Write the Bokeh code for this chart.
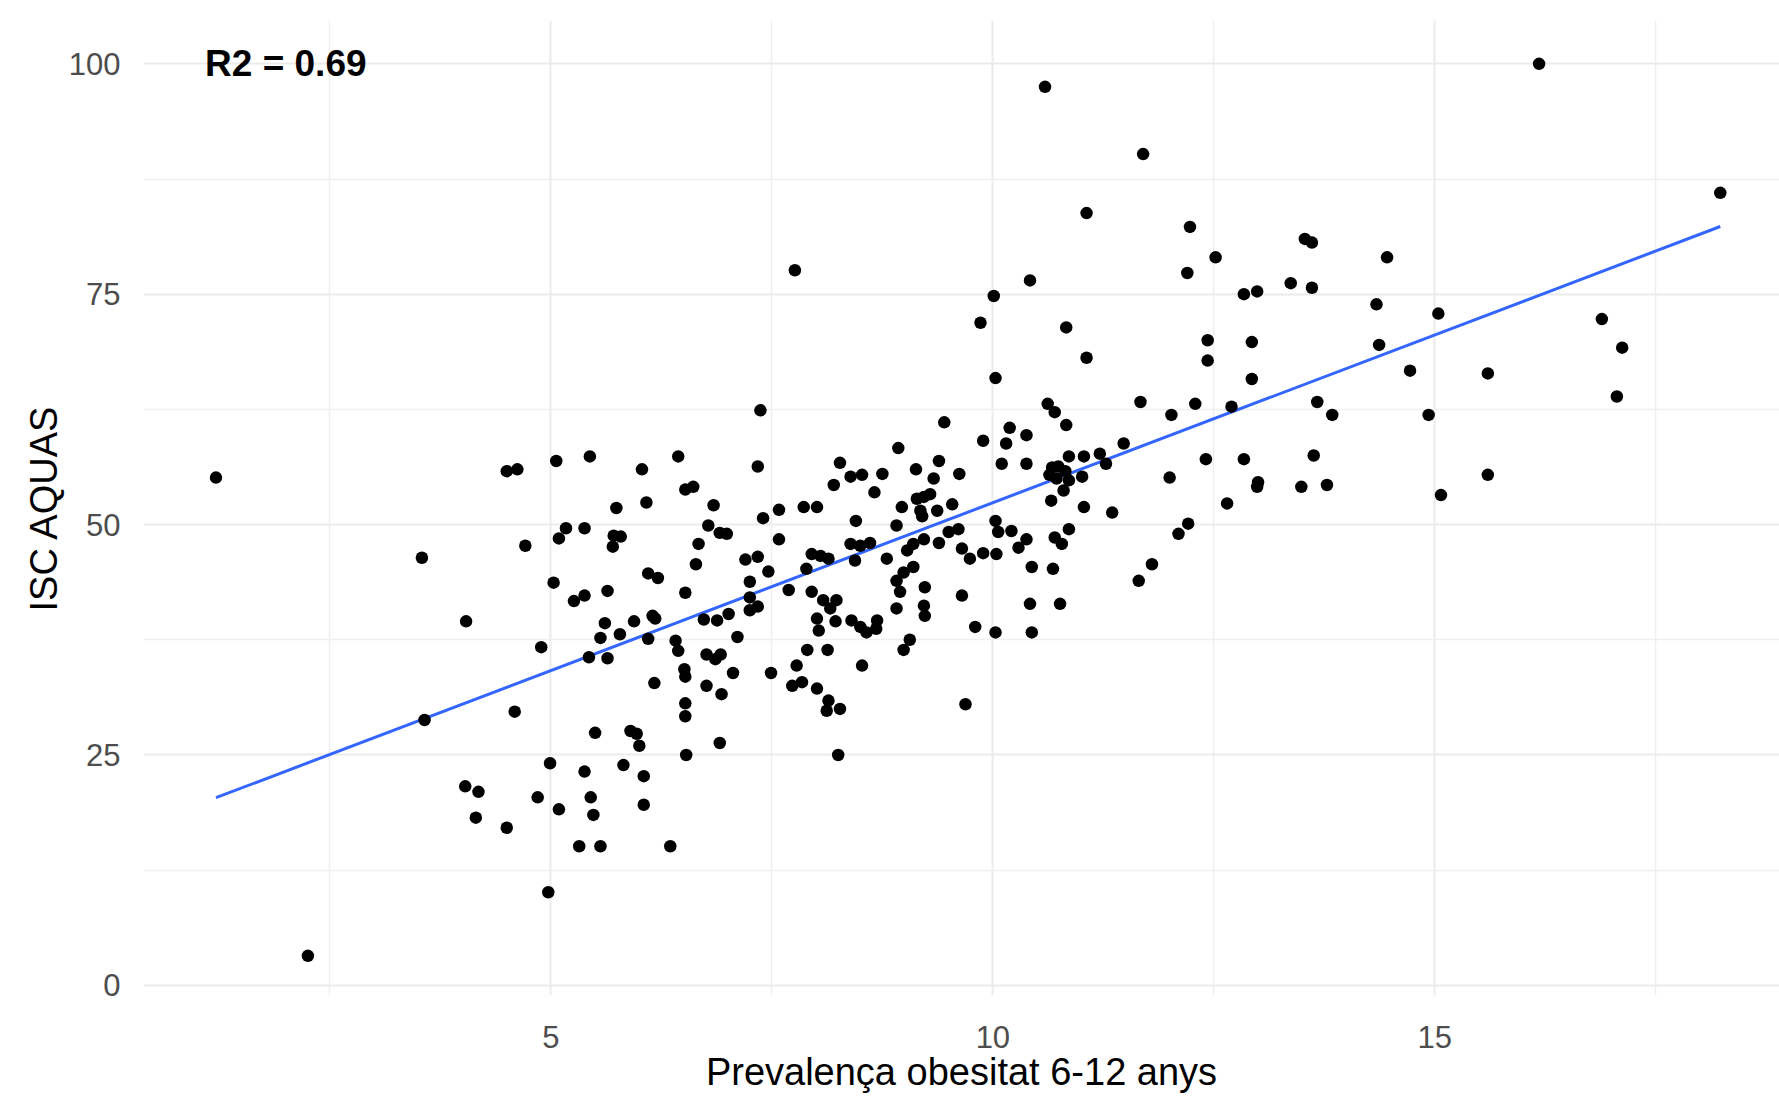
import numpy as np
from bokeh.plotting import figure
from bokeh.models import Range1d, FixedTicker, Label
from bokeh.embed import file_html
from bokeh.resources import INLINE

# Prevalença obesitat 6-12 anys (x) vs ISC AQUAS (y)
prevalenca = [
    1.21, 3.54, 3.57, 2.25,
    7.37, 4.50, 4.62, 5.06, 5.44, 6.03, 6.44, 7.34, 6.52, 6.61, 6.84, 5.74, 6.08, 7.40,
    5.17, 5.09, 5.38, 5.71, 5.79, 5.70, 6.78, 6.91, 6.99, 6.67, 4.71, 6.64, 7.20, 7.34,
    7.46, 5.03, 6.10, 6.21, 5.64, 5.26, 5.38, 6.52, 7.25, 4.04, 5.61, 5.56, 5.94, 6.15,
    6.18, 5.78, 6.10, 7.25, 7.34, 7.25, 6.73, 6.88, 7.01, 7.11, 4.89, 5.43, 5.64, 6.41,
    6.44, 6.76, 6.86, 6.92,
    11.06, 10.03, 10.62, 10.70, 10.83, 11.67, 12.02, 12.29, 9.45, 9.89, 10.19, 10.15,
    10.38, 8.93, 8.27, 8.39, 8.52, 8.75, 8.20, 8.66, 9.13, 9.39, 9.33, 9.62, 10.10, 10.38,
    10.86, 11.03, 11.21, 11.48, 12.00, 10.67, 10.74, 10.64, 10.82, 10.72, 10.86, 10.80,
    11.01, 11.28, 10.66, 11.03, 11.35, 7.58, 7.86, 8.01, 7.58, 8.45, 7.95, 8.05, 8.14,
    7.89, 7.69, 7.95, 8.08, 8.23, 8.16, 8.01, 8.03, 8.22, 8.40, 8.50, 8.57, 8.69, 8.68,
    7.90, 8.13, 8.39, 8.50, 8.61, 8.44, 8.80, 8.91, 8.97, 9.14, 9.22, 9.29, 9.18, 9.20,
    9.37, 9.54, 9.03, 9.10, 9.22, 9.39, 9.50, 9.61, 8.91, 8.99, 9.10, 8.95, 8.91, 9.23,
    9.22, 9.23, 9.06, 8.99, 9.65, 9.65, 9.74, 9.89, 10.04, 9.80, 10.03, 10.03, 10.06,
    10.21, 10.29, 10.38, 10.44, 10.68, 10.42, 10.76, 10.44, 10.70, 10.78, 10.86, 11.65,
    11.80, 12.10, 12.21,
    6.17, 6.51, 6.52, 6.76, 6.93, 7.06, 7.49, 7.78, 7.73, 7.84, 8.01, 8.14, 8.12, 8.27,
    6.52, 6.52, 4.59, 5.50, 5.90, 5.97, 6.00, 6.91, 6.53, 8.25, 4.99, 5.38, 5.82, 6.05,
    4.03, 4.18, 4.85, 5.45, 5.48, 5.09, 6.05, 4.15, 4.50, 5.32, 5.56, 6.35, 4.97,
    8.52, 9.69,
    10.59, 11.06, 7.76, 10.42, 10.01, 9.86, 10.83,
    11.70, 12.23, 12.52, 12.20, 13.53, 13.61, 14.46, 13.37, 13.61, 12.84, 12.99, 14.34,
    15.04, 12.43, 12.93, 14.37, 12.43, 12.93, 14.72, 15.60, 12.70, 13.67, 13.84, 14.93,
    12.41, 12.84, 13.63,
    13.00, 12.99, 12.65, 13.49, 13.78, 15.07, 15.60,
    16.18, 18.23, 16.89, 17.12, 17.06,
]
isc_aquas = [
    55.1, 46.4, 28.8, 3.2,
    62.4, 55.8, 56.0, 56.9, 57.4, 56.0, 57.4, 56.3, 53.8, 54.1, 52.1, 51.8, 52.4, 50.7,
    49.6, 48.5, 49.6, 48.8, 48.7, 47.6, 49.9, 49.1, 49.0, 47.9, 47.7, 45.7, 46.2, 46.5,
    44.9, 43.7, 44.7, 44.2, 42.8, 41.7, 42.3, 42.6, 43.8, 39.5, 39.3, 37.7, 39.5, 40.1,
    39.8, 38.1, 37.6, 42.1, 41.1, 40.7, 39.7, 39.6, 40.3, 37.8, 36.7, 35.6, 35.5, 37.4,
    36.3, 35.9, 35.4, 35.9,
    68.1, 65.9, 63.1, 62.2, 60.8, 63.3, 61.9, 63.1, 61.1, 59.1, 60.5, 58.8,
    59.7, 58.3, 56.7, 55.2, 55.4, 55.5, 54.3, 53.5, 56.0, 56.9, 55.0, 55.5, 56.6, 56.6,
    57.4, 57.4, 57.7, 58.8, 55.1, 56.2, 56.3, 55.4, 55.8, 55.0, 54.8, 53.7,
    55.2, 56.6, 52.6, 51.9, 51.3, 51.6, 51.9, 51.9, 48.4, 50.4, 46.8, 46.6, 46.3,
    45.2, 42.9, 42.7, 41.8, 41.8, 40.9, 39.8, 38.5, 39.5, 39.6, 38.9, 38.3, 39.6, 38.7,
    36.4, 36.4, 47.9, 47.7, 48.0, 46.1, 46.3, 49.9, 51.9, 52.8, 53.0, 53.3, 51.5, 50.9,
    51.5, 52.2, 47.2, 47.9, 48.4, 48.0, 49.2, 49.5, 43.9, 44.8, 45.4, 42.7, 40.9, 43.2,
    41.2, 40.1, 37.5, 36.4, 42.3, 47.4, 46.3, 46.9, 46.8, 38.9, 38.3, 50.4, 49.2,
    49.3, 47.5, 48.4, 45.4, 45.2, 41.4, 41.4, 38.3, 48.6, 47.9, 49.5, 43.9,
    45.7, 49.0, 50.1,
    32.8, 34.3, 33.5, 32.5, 31.6, 33.9, 33.9, 34.7, 32.5, 32.9, 32.2, 30.9, 29.8, 30.0,
    30.6, 29.2, 29.7, 27.4, 27.6, 27.3, 26.0, 26.3, 25.0, 25.0, 24.1, 23.2, 23.9, 22.7,
    21.6, 21.0, 20.4, 20.4, 18.5, 19.1, 19.6, 18.2, 17.1, 15.1, 15.1, 15.1, 10.1,
    34.7, 30.5,
    97.5, 83.8, 77.6, 76.5, 74.8, 71.9, 71.4,
    90.2, 82.3, 79.0, 77.3, 81.0, 80.6, 79.0, 76.2, 75.7, 75.0, 75.3, 73.9,
    72.9, 70.0, 69.8, 69.5, 67.8, 65.8, 66.7, 66.4, 62.8, 63.3, 61.9, 61.9,
    57.1, 57.1, 57.5,
    54.6, 54.1, 52.3, 54.1, 54.3, 53.2, 55.4,
    100.0, 86.0, 72.3, 69.2, 63.9,
]

x_ticks = [5, 10, 15]
x_minor = [2.5, 7.5, 12.5, 17.5]
y_ticks = [0, 25, 50, 75, 100]
y_minor = [12.5, 37.5, 62.5, 87.5]
x_title = "Prevalença obesitat 6-12 anys"
y_title = "ISC AQUAS"
r2_text = "R2 = 0.69"
r2_pos = (2.0, 100.0)

FONT = "Liberation Sans"

p = figure(width=1779, height=1096, output_backend="svg", toolbar_location=None,
           x_range=Range1d(0.39, 18.9), y_range=Range1d(-1.1, 104.7),
           min_border_left=143, min_border_right=0, min_border_top=20,
           min_border_bottom=101)
p.outline_line_color = None
p.background_fill_color = "white"
p.border_fill_color = "white"

p.xaxis.ticker = FixedTicker(ticks=x_ticks, minor_ticks=x_minor)
p.yaxis.ticker = FixedTicker(ticks=y_ticks, minor_ticks=y_minor)
for ax in (p.xaxis, p.yaxis):
    ax.axis_line_color = None
    ax.major_tick_line_color = None
    ax.minor_tick_line_color = None
    ax.major_label_text_font = FONT
    ax.major_label_text_font_size = "31px"
    ax.major_label_text_color = "#4D4D4D"
    ax.axis_label_text_font = FONT
    ax.axis_label_text_font_size = "38px"
    ax.axis_label_text_font_style = "normal"
    ax.axis_label_text_color = "black"
p.xaxis.axis_label = x_title
p.yaxis.axis_label = y_title
p.yaxis.major_label_standoff = 17
p.yaxis.axis_label_standoff = 1
p.xaxis.major_label_standoff = 24
p.xaxis.axis_label_standoff = 0

for g in (p.xgrid, p.ygrid):
    g.grid_line_color = "#EBEBEB"
    g.grid_line_width = 2
    g.minor_grid_line_color = "#EFEFEF"
    g.minor_grid_line_width = 1.5

xs = np.array(prevalenca)
ys = np.array(isc_aquas)
slope, intercept = np.polyfit(xs, ys, 1)
fx = np.array([xs.min(), xs.max()])
p.line(fx, intercept + slope * fx, line_color="#3366FF", line_width=3)

p.scatter(xs, ys, size=12.5, fill_color="black", line_color=None)

p.add_layout(Label(x=r2_pos[0], y=r2_pos[1], text=r2_text, text_align="center",
                   text_baseline="middle", text_font=FONT, text_font_size="37px",
                   text_font_style="bold", text_color="black"))

open("out.html", "w").write(file_html(p, INLINE))
